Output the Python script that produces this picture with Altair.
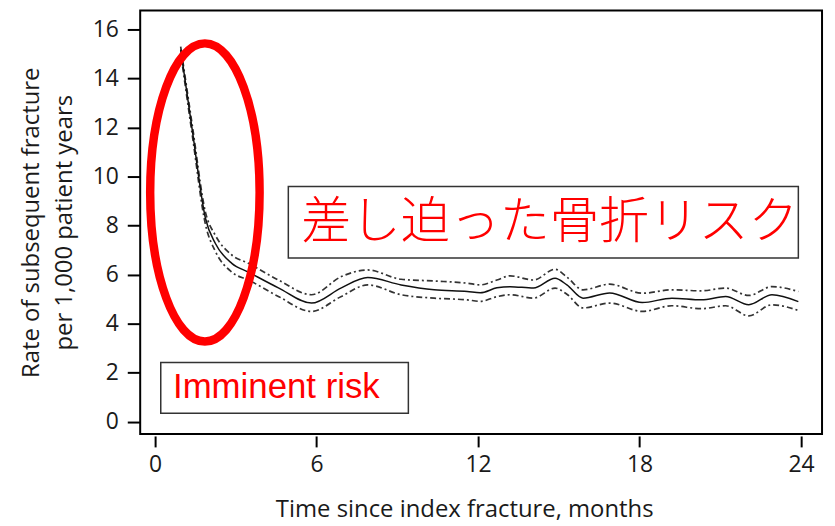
import altair as alt
import pandas as pd

# ---- data ----
months = [0.95, 1.38, 1.87, 2.24, 2.85, 3.47, 4.58, 5.81, 6.92, 7.9, 9.14, 10.37,
          11.6, 12.08, 12.7, 13.19, 14.06, 14.86, 15.3, 15.9, 16.89, 18.1, 19.2,
          20.3, 21.2, 22.06, 22.92, 23.9]
rate = [15.18, 11.9, 8.3, 7.27, 6.46, 6.1, 5.46, 4.84, 5.46, 5.88, 5.58, 5.38,
        5.31, 5.26, 5.46, 5.51, 5.45, 5.85, 5.58, 5.04, 5.25, 4.86, 5.04,
        4.97, 5.11, 4.77, 5.18, 4.90]
upper = [15.3, 12.1, 8.55, 7.6, 6.8, 6.46, 5.78, 5.18, 5.92, 6.19, 5.81, 5.74,
         5.65, 5.58, 5.78, 5.95, 5.78, 6.22, 5.9, 5.38, 5.61, 5.24, 5.38,
         5.34, 5.45, 5.15, 5.51, 5.31]
lower = [15.05, 11.7, 8.05, 6.95, 6.1, 5.78, 5.11, 4.5, 5.11, 5.58, 5.18, 5.04,
         4.97, 4.91, 5.1, 5.18, 5.04, 5.45, 5.2, 4.64, 4.84, 4.5, 4.73,
         4.61, 4.73, 4.32, 4.77, 4.54]
x_ticks = [0, 6, 12, 18, 24]
y_ticks = [0, 2, 4, 6, 8, 10, 12, 14, 16]
x_title = "Time since index fracture, months"
y_title = ["Rate of subsequent fracture", "per 1,000 patient years"]
label_jp = "差し迫った骨折リスク"
label_en = "Imminent risk"

df = pd.DataFrame({"month": months, "rate": rate, "upper": upper, "lower": lower})
bands = df.melt(id_vars="month", value_vars=["upper", "lower"],
                var_name="bound", value_name="value")

FONT = "Open Sans"
xs = alt.Scale(domain=[-0.554, 24.78], nice=False, zero=False)
ys = alt.Scale(domain=[-0.5, 16.77], nice=False, zero=False)

x_axis = alt.Axis(values=x_ticks, title=x_title, grid=False, domain=False, offset=2,
                  tickSize=11, tickWidth=2, tickColor="black",
                  labelFont=FONT, labelFontSize=23, labelColor="#1a1a1a", labelPadding=7,
                  titleFont=FONT, titleFontSize=24, titleFontWeight="normal",
                  titleColor="#1a1a1a", titleX=326, titleY=81,
                  titleBaseline="alphabetic", titleAlign="center")
y_axis = alt.Axis(values=y_ticks, title=y_title, grid=False, domain=False,
                  tickSize=13, tickWidth=2, tickColor="black",
                  labelFont=FONT, labelFontSize=23, labelColor="#1a1a1a", labelPadding=9,
                  titleFont=FONT, titleFontSize=24, titleFontWeight="normal",
                  titleColor="#1a1a1a", titleLineHeight=33, titleX=-109, titleY=213,
                  titleAngle=-90, titleBaseline="middle", titleAlign="center")

X = alt.X("month:Q", scale=xs, axis=x_axis)
Y = alt.Y("rate:Q", scale=ys, axis=y_axis)

main = alt.Chart(df).mark_line(color="#111", strokeWidth=1.5, interpolate="monotone").encode(x=X, y=Y)
band = alt.Chart(bands).mark_line(color="#333", strokeWidth=1.7, strokeDash=[6, 3, 2, 3],
                                  interpolate="monotone").encode(
    x=alt.X("month:Q", scale=xs), y=alt.Y("value:Q", scale=ys), detail="bound:N")

boxes = pd.DataFrame({"x": [4.95, 0.21], "x2": [23.9, 9.41], "y": [9.59, 2.42], "y2": [6.68, 0.35]})
rects = alt.Chart(boxes).mark_rect(fill="white", stroke="#333", strokeWidth=1.5).encode(
    x=alt.X("x:Q", scale=xs), x2="x2:Q", y=alt.Y("y:Q", scale=ys), y2="y2:Q")

jp = alt.Chart(pd.DataFrame({"x": [5.43], "y": [8.1], "t": [label_jp]})).mark_text(
    align="left", baseline="middle", font="Noto Sans CJK JP", fontSize=50,
    fontWeight=300, color="#ff0000"
).encode(x=alt.X("x:Q", scale=xs), y=alt.Y("y:Q", scale=ys), text="t:N")
en = alt.Chart(pd.DataFrame({"x": [0.665], "y": [0.96], "t": [label_en]})).mark_text(
    align="left", baseline="alphabetic", font="Liberation Sans", fontSize=35, color="#ff0000"
).encode(x=alt.X("x:Q", scale=xs), y=alt.Y("y:Q", scale=ys), text="t:N")

ell = alt.Chart(pd.DataFrame({"x": [1.85], "y": [9.35]})).mark_point(
    shape="M 0 -1 A 0.367 1 0 1 1 0 1 A 0.367 1 0 1 1 0 -1 Z", size=90000,
    filled=False, stroke="#ff0000", strokeWidth=8.5, opacity=1
).encode(x=alt.X("x:Q", scale=xs), y=alt.Y("y:Q", scale=ys))

chart = alt.layer(band, main, rects, jp, en, ell).properties(
    width=686, height=426,
    autosize=alt.AutoSizeParams(type="none"),
    padding={"left": 133, "top": 1, "right": 5, "bottom": 91},
    background="white",
).configure_view(stroke="black", strokeWidth=2)

chart.save("out.html", embed_options={"renderer": "svg", "actions": False})
